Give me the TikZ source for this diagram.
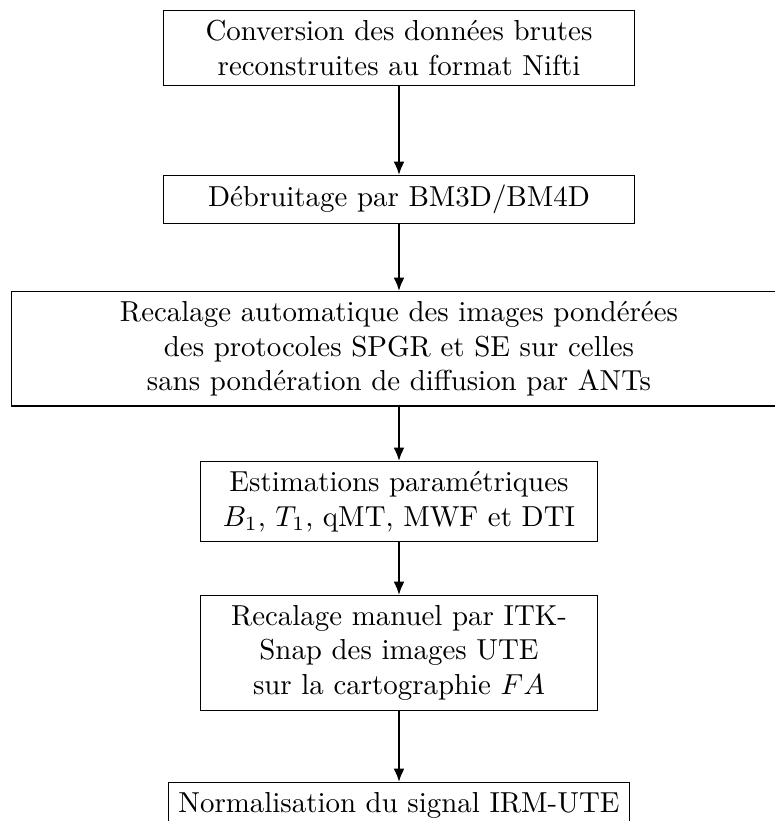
\documentclass[tikz,border=0pt]{standalone}
\usetikzlibrary{arrows.meta}
\begin{document}
\begin{tikzpicture}[x=0.34602pt,y=-0.34602pt,
  box/.style={draw, align=center, anchor=north, inner sep=0.3333em},
  link/.style={-{Latex[length=4.6pt,width=3.8pt]}, thick}]
\useasboundingbox (0,0) rectangle (774,821);
\node[box,text width=5.5cm] (b1) at (399,10) {Conversion des données brutes\\reconstruites au format Nifti};
\node[box,text width=5.5cm] (b2) at (399,175) {Débruitage par BM3D/BM4D};
\node[box,text width=9.2cm] (b3) at (399,291) {Recalage automatique des images pondérées\\des protocoles SPGR et SE sur celles\\sans pondération de diffusion par ANTs};
\node[box,text width=4.6cm] (b4) at (399,461) {Estimations paramétriques\\$B_1$, $T_1$, qMT, MWF et DTI};
\node[box,text width=4.6cm] (b5) at (399,595) {Recalage manuel par ITK-\\Snap des images UTE\\sur la cartographie $FA$};
\node[box] (b6) at (399,782) {Normalisation du signal IRM-UTE};
\draw[link] (b1) -- (b2);
\draw[link] (b2) -- (b3);
\draw[link] (b3) -- (b4);
\draw[link] (b4) -- (b5);
\draw[link] (b5) -- (b6);
\end{tikzpicture}
\end{document}
